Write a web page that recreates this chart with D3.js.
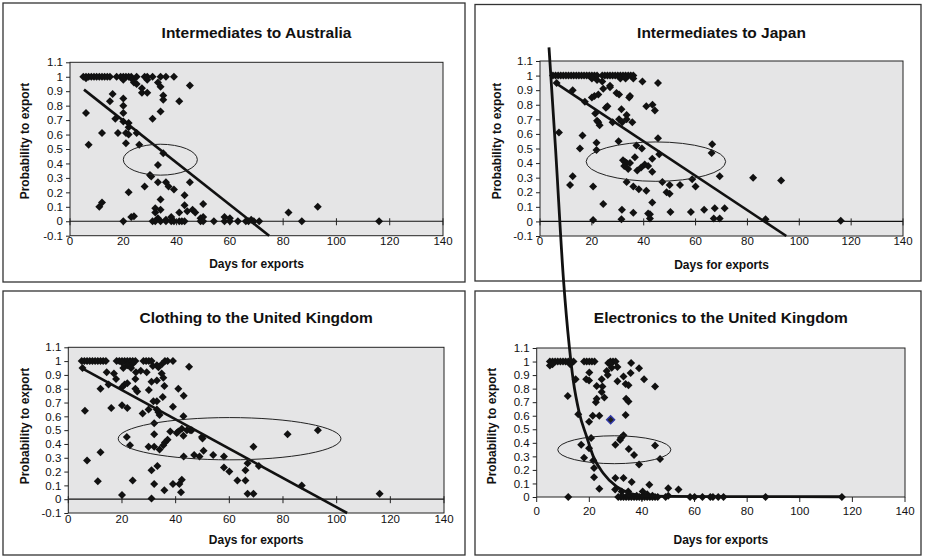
<!DOCTYPE html>
<html>
<head>
<meta charset="utf-8">
<script src="https://cdn.jsdelivr.net/npm/d3@7"></script>
<style>
  body { margin: 0; background: #fff; }
  text { font-family: "Liberation Sans", Arial, sans-serif; fill: #111; }
</style>
</head>
<body>
<div id="chart"></div>
<script>
// Data: [days for exports, probability to export]
var australia = [
  [5,1],[6,1],[7,1],[8,1],[9,1],[10,1],[11,1],[12,1],[13,1],[14,1],[15,1],[17.5,1],[19,1],[20,1],[21,1],[22,1],[23,1],[25,1],
  [28,1],[29,1],[31,1],[34,1],[36,1],[39,1],[6,0.99],[20,0.98],[23.5,0.98],[29,0.98],[24,0.96],[25,0.95],
  [45,0.94],[33,0.96],[34,0.93],[27,0.92],[27,0.89],[29,0.89],[35,0.87],[35,0.84],[16,0.88],[15,0.83],[41,0.83],
  [20,0.85],[20,0.8],[34,0.76],[6,0.75],[20,0.75],[17,0.71],[31,0.71],[20,0.69],[22,0.68],[22,0.65],[12,0.61],
  [18,0.61],[21,0.61],[25,0.61],[22,0.6],[21,0.54],[7,0.53],[26,0.53],[35,0.47],[33,0.39],[30,0.32],[30.5,0.31],
  [33,0.27],[36,0.27],[45,0.27],[28,0.24],[37,0.24],[39,0.22],[22,0.2],[43,0.18],[34,0.15],[50,0.12],[11,0.1],
  [12,0.13],[43,0.11],[93,0.1],[82,0.06],[32,0.09],[34,0.08],[46,0.08],[47,0.06],[44,0.07],[41,0.06],[32,0.06],
  [23,0.03],[24,0.035],[58,0.03],[60,0.02],[38,0.03],[33,0.02],[49,0.02],[50,0.03],[68,0.01],[36,0.01],
  [20,0],[31,0],[32,0],[34,0],[36,0],[38,0],[39,0],[41,0],[42,0],[43,0],[49,0],[50,0],[54,0],[58,0],[60,0],
  [63,0],[66,0],[67,0],[69,0],[71,0],[87,0],[116,0]
];
var japan = [
  [5,1],[6,1],[7,1],[8,1],[9,1],[10,1],[11,1],[12,1],[13,1],[14,1],[15,1],[16,1],[17,1],[18,1],[19,1],[20,1],
  [21,1],[22,1],[24,1],[25,1],[26,1],[27,1],[28,1],[29,1],[30,1],[31,1],[32,1],[33,1],[34,1],[35,1],[36,1],
  [20,0.98],[22,0.97],[31,0.98],[33,0.98],[36,0.98],[24,0.96],[39.5,0.96],[45.5,0.95],[6.4,0.95],[27,0.93],
  [24.4,0.91],[27,0.92],[12.6,0.9],[29.5,0.88],[30.5,0.87],[22.5,0.87],[21,0.86],[20,0.85],[34.4,0.85],[34.7,0.86],
  [17.3,0.82],[41,0.79],[43.4,0.8],[44.3,0.76],[25.4,0.78],[26,0.79],[31.4,0.77],[21.3,0.74],[33.4,0.73],[33.4,0.7],
  [22,0.69],[30.5,0.7],[22.5,0.68],[28,0.68],[31.7,0.68],[35.6,0.68],[23,0.66],[7.3,0.61],[16.4,0.59],[45.5,0.57],
  [30.3,0.55],[21.8,0.54],[37.2,0.52],[66.4,0.53],[39.3,0.5],[15.4,0.5],[21.8,0.49],[66.2,0.47],[46,0.46],[36.6,0.44],
  [43.3,0.43],[32,0.42],[32.7,0.41],[33.4,0.4],[32.5,0.38],[34,0.36],[34.7,0.4],[40.4,0.39],[41.7,0.38],[39,0.37],
  [37.5,0.35],[43.3,0.34],[69.3,0.31],[12.6,0.31],[82.2,0.3],[93,0.28],[58.7,0.29],[33.4,0.27],[47.2,0.27],[11.6,0.25],
  [20.5,0.24],[36,0.24],[38.1,0.22],[41,0.21],[50,0.25],[54,0.25],[60,0.24],[48.8,0.2],[50,0.19],[43.3,0.13],
  [24.4,0.12],[67.4,0.09],[71.2,0.09],[63.3,0.08],[31.6,0.08],[50.3,0.065],[58.2,0.065],[36,0.06],[41.7,0.055],
  [42.4,0.05],[31.4,0.015],[20.5,0.01],[42.4,0.02],[67,0.02],[69.3,0.02],[87,0.015],[116,0.005]
];
var clothing = [
  [5,1],[6,1],[7,1],[8,1],[9,1],[10,1],[11,1],[12,1],[13,1],[14,1],[18,1],[19,1],[20,1],[21,1],[22,1],[23,1],
  [24,1],[25,1],[28,1],[29,1],[30,1],[31,1],[36,1],[37,1],[39,1],[20,0.99],[22,0.97],[24,0.98],[33,0.97],[35,0.98],
  [45,0.96],[5.3,0.95],[20.5,0.95],[23.4,0.95],[33.6,0.955],[31.5,0.965],[27,0.93],[14.3,0.92],[17,0.91],[25.2,0.92],
  [29.2,0.92],[34.8,0.91],[35.4,0.88],[25,0.87],[17.8,0.87],[33,0.86],[31,0.85],[15,0.83],[21,0.83],[22,0.84],
  [20,0.81],[35.8,0.82],[12,0.8],[41,0.8],[25,0.8],[25.7,0.78],[30,0.79],[43,0.75],[35.2,0.74],[33,0.71],
  [31.7,0.71],[39,0.67],[20,0.68],[22,0.66],[16,0.66],[6.2,0.64],[29.9,0.65],[33,0.65],[33.6,0.63],[34,0.61],
  [27.7,0.62],[42.9,0.6],[32,0.55],[42.3,0.51],[44.2,0.5],[45.4,0.5],[46,0.5],[38,0.49],[40.4,0.48],[32,0.47],
  [81.7,0.47],[93,0.5],[41,0.49],[42.9,0.46],[21.8,0.45],[50,0.44],[37,0.43],[49.8,0.45],[23,0.39],[36,0.41],
  [29.9,0.38],[32,0.38],[35.4,0.39],[69,0.38],[34,0.36],[50.4,0.35],[46.9,0.32],[43,0.31],[48.9,0.31],[54,0.32],
  [58,0.31],[66.8,0.26],[58,0.23],[71,0.24],[33.2,0.24],[31,0.21],[66,0.21],[60,0.2],[24,0.135],[63,0.135],
  [66,0.135],[42.3,0.14],[11,0.13],[32,0.11],[39,0.11],[41.4,0.11],[87,0.1],[12,0.34],[7,0.28],[35.8,0.065],
  [42,0.05],[66.8,0.04],[69,0.04],[116,0.04],[20,0.03],[31,0.005]
];
var electronics = [
  [5,1],[6,1],[7,1],[8,1],[9,1],[10,1],[11,1],[12,1],[13,1],[14,1],[18,1],[19,1],[20,1],[21,1],[22,1],[28,1],
  [29,1],[30,1],[5,0.97],[6,0.98],[12.7,0.98],[27.2,0.99],[28,0.98],[35.9,0.99],[30.7,0.96],[28.5,0.955],[38.9,0.95],
  [26.6,0.93],[20,0.92],[35.7,0.915],[27,0.9],[33,0.89],[24.7,0.87],[14.8,0.87],[18.8,0.87],[19.9,0.86],[40.8,0.87],
  [30.7,0.855],[33.8,0.835],[34.9,0.825],[22.8,0.82],[25,0.815],[45,0.815],[24.7,0.775],[11.8,0.745],[25.7,0.735],
  [22.8,0.725],[22.5,0.7],[34,0.725],[34.9,0.705],[15.8,0.61],[21.3,0.6],[23.8,0.6],[33.8,0.605],[19.9,0.555],
  [33,0.455],[31.7,0.42],[20.7,0.435],[32,0.435],[16.9,0.385],[29.9,0.385],[45,0.38],[19.9,0.36],[35,0.355],
  [37,0.31],[18,0.29],[46.9,0.28],[21.5,0.27],[38.9,0.24],[21.8,0.215],[21.8,0.145],[29.9,0.14],[33,0.14],
  [36.1,0.11],[42.8,0.09],[23.8,0.06],[53.9,0.055],[50,0.065],[29.8,0.055],[32.3,0.04],[34.8,0.04],[40.3,0.04],
  [12,0],[31,0],[32,0],[33,0],[34,0],[35,0],[36,0],[37,0],[38,0],[39,0],[40,0],[41,0],[42,0],[43,0],[44,0],
  [45,0],[46,0],[49,0],[50,0.01],[58.3,0],[60,0],[63,0],[66,0],[67,0],[69,0],[71,0],[87,0],[116,0],
  [35,0.02],[38,0.01],[42,0.02],[44,0.01]
];
var electronicsHighlight = [[28.1,0.57]];

// Trend lines (visible end points) and the exponential trend
var australiaTrend   = [[5.25,0.911],[74.75,-0.1]];
var japanTrend       = [[5.8,0.952],[95,-0.1]];
var clothingTrend    = [[5,0.949],[103.9,-0.1]];
var electronicsTrend = [[4.67,3.32],[7.2,2.56],[10.2,1.6],[12.4,1.11],[13.9,0.86],[16.2,0.62],[19,0.445],
  [21.5,0.3],[25.3,0.175],[30.4,0.076],[35.5,0.027],[40,0.01],[50,0.005],[70,0.003],[116,0.002]];

// Ellipses: [centre days, centre prob, radius days, radius prob]
var australiaOval   = [33.9,0.426,13.9,0.107];
var japanOval       = [44.7,0.41,26.9,0.135];
var clothingOval    = [60.1,0.438,41.5,0.153];
var electronicsOval = [29.5,0.349,21.5,0.103];

var titles = ["Intermediates to Australia","Intermediates to Japan","Clothing to the United Kingdom","Electronics to the United Kingdom"];
var xTicks = [0,20,40,60,80,100,120,140];
var yTicks = [-0.1,0,0.1,0.2,0.3,0.4,0.5,0.6,0.7,0.8,0.9,1,1.1];
var xTitle = "Days for exports";
var yTitle = "Probability to export";

// Layout
var panels = [
  { box:[3,3,465,282],   x0:70,    x1:443, yt:62.3, yb:235.7, ymin:-0.1, titleY:32,  xlabY:264, ylabX:25,  ylabY:141, tickY:241,
    pts:australia, trend:australiaTrend, oval:australiaOval },
  { box:[475,4.5,921,281], x0:540, x1:903, yt:61,   yb:236,   ymin:-0.1, titleY:32,  xlabY:265, ylabX:497, ylabY:141, tickY:241,
    pts:japan, trend:japanTrend, oval:japanOval },
  { box:[3,291,465,555], x0:68.3,  x1:444, yt:347.3, yb:513,  ymin:-0.1, titleY:317, xlabY:540, ylabX:25,  ylabY:426, tickY:519,
    pts:clothing, trend:clothingTrend, oval:clothingOval },
  { box:[475,291,921,555], x0:536.7, x1:905, yt:348, yb:497,  ymin:0,    titleY:317, xlabY:540, ylabX:492, ylabY:426, tickY:511,
    pts:electronics, trend:null, oval:electronicsOval }
];

var svg = d3.select("#chart").append("svg")
    .attr("width", 925)
    .attr("height", 558);

var diamond = d3.symbol().type(d3.symbolSquare).size(32);
var curveScales;

panels.forEach(function(p, i) {
  var g = svg.append("g");

  g.append("rect")
    .attr("x", p.box[0]).attr("y", p.box[1])
    .attr("width", p.box[2] - p.box[0]).attr("height", p.box[3] - p.box[1])
    .style("fill", "#fff").style("stroke", "#333").style("stroke-width", 1.3);

  var x = d3.scaleLinear().domain([0, 140]).range([p.x0, p.x1]);
  var y = d3.scaleLinear().domain([p.ymin, 1.1]).range([p.yb, p.yt]);
  if (i === 3) curveScales = { x: x, y: y };

  g.append("rect")
    .attr("x", p.x0).attr("y", p.yt)
    .attr("width", p.x1 - p.x0).attr("height", p.yb - p.yt)
    .style("fill", "#e5e5e6").style("stroke", "#222").style("stroke-width", 1);

  // y axis
  var yAxis = d3.axisLeft(y)
    .tickValues(yTicks.filter(function(v) { return v >= p.ymin - 1e-9; }))
    .tickSize(4).tickPadding(3)
    .tickFormat(function(v) { return String(+v.toFixed(1)); });
  var ya = g.append("g").attr("transform", "translate(" + p.x0 + ",0)").call(yAxis);
  ya.select(".domain").remove();
  ya.selectAll("line").style("stroke", "#222");
  ya.selectAll("text").style("font-size", "11.5px").style("fill", "#111");

  // zero line with crossing ticks
  var y0 = y(0);
  if (p.ymin < 0) {
    g.append("line")
      .attr("x1", p.x0).attr("x2", p.x1).attr("y1", y0).attr("y2", y0)
      .style("stroke", "#111").style("stroke-width", 1.2);
  }
  g.selectAll(".xt").data(xTicks).enter().append("line")
    .attr("x1", function(d) { return x(d); }).attr("x2", function(d) { return x(d); })
    .attr("y1", p.ymin < 0 ? y0 - 3 : y0)
    .attr("y2", p.ymin < 0 ? y0 + 4 : y0 + 5)
    .style("stroke", "#222");

  // x tick labels
  g.selectAll(".xl").data(xTicks).enter().append("text")
    .attr("x", function(d) { return x(d); })
    .attr("y", p.tickY)
    .attr("text-anchor", "middle")
    .attr("dominant-baseline", "central")
    .style("font-size", "11.5px")
    .text(function(d) { return d; });

  // points
  g.selectAll(".pt").data(p.pts).enter().append("path")
    .attr("d", diamond)
    .attr("transform", function(d) { return "translate(" + x(d[0]) + "," + y(d[1]) + ") rotate(45)"; })
    .style("fill", "#111");

  if (i === 3) {
    g.selectAll(".hl").data(electronicsHighlight).enter().append("path")
      .attr("d", diamond)
      .attr("transform", function(d) { return "translate(" + x(d[0]) + "," + y(d[1]) + ") rotate(45)"; })
      .style("fill", "#222").style("stroke", "#3038a8").style("stroke-width", 1.4);
  }

  // linear trend
  if (p.trend) {
    g.append("path")
      .attr("d", d3.line().x(function(d) { return x(d[0]); }).y(function(d) { return y(d[1]); })(p.trend))
      .style("fill", "none").style("stroke", "#111").style("stroke-width", 2.6);
  }

  // oval
  var o = p.oval;
  g.append("ellipse")
    .attr("cx", x(o[0])).attr("cy", y(o[1]))
    .attr("rx", x(o[0] + o[2]) - x(o[0]))
    .attr("ry", y(0) - y(o[3]))
    .style("fill", "none").style("stroke", "#222").style("stroke-width", 1);

  // titles
  g.append("text")
    .attr("x", (p.x0 + p.x1) / 2).attr("y", p.titleY)
    .attr("text-anchor", "middle").attr("dominant-baseline", "central")
    .style("font-size", "15.5px").style("font-weight", "bold")
    .text(titles[i]);

  g.append("text")
    .attr("x", (p.x0 + p.x1) / 2).attr("y", p.xlabY)
    .attr("text-anchor", "middle").attr("dominant-baseline", "central")
    .style("font-size", "12px").style("font-weight", "bold")
    .text(xTitle);

  g.append("text")
    .attr("transform", "translate(" + p.ylabX + "," + p.ylabY + ") rotate(-90)")
    .attr("text-anchor", "middle").attr("dominant-baseline", "central")
    .style("font-size", "12px").style("font-weight", "bold")
    .text(yTitle);
});

// exponential trend of the electronics panel, not clipped (runs up over the Japan panel)
svg.append("path")
  .attr("d", d3.line()
    .x(function(d) { return curveScales.x(d[0]); })
    .y(function(d) { return curveScales.y(d[1]); })
    .curve(d3.curveMonotoneX)(electronicsTrend))
  .style("fill", "none").style("stroke", "#111").style("stroke-width", 2.8);
</script>
</body>
</html>
